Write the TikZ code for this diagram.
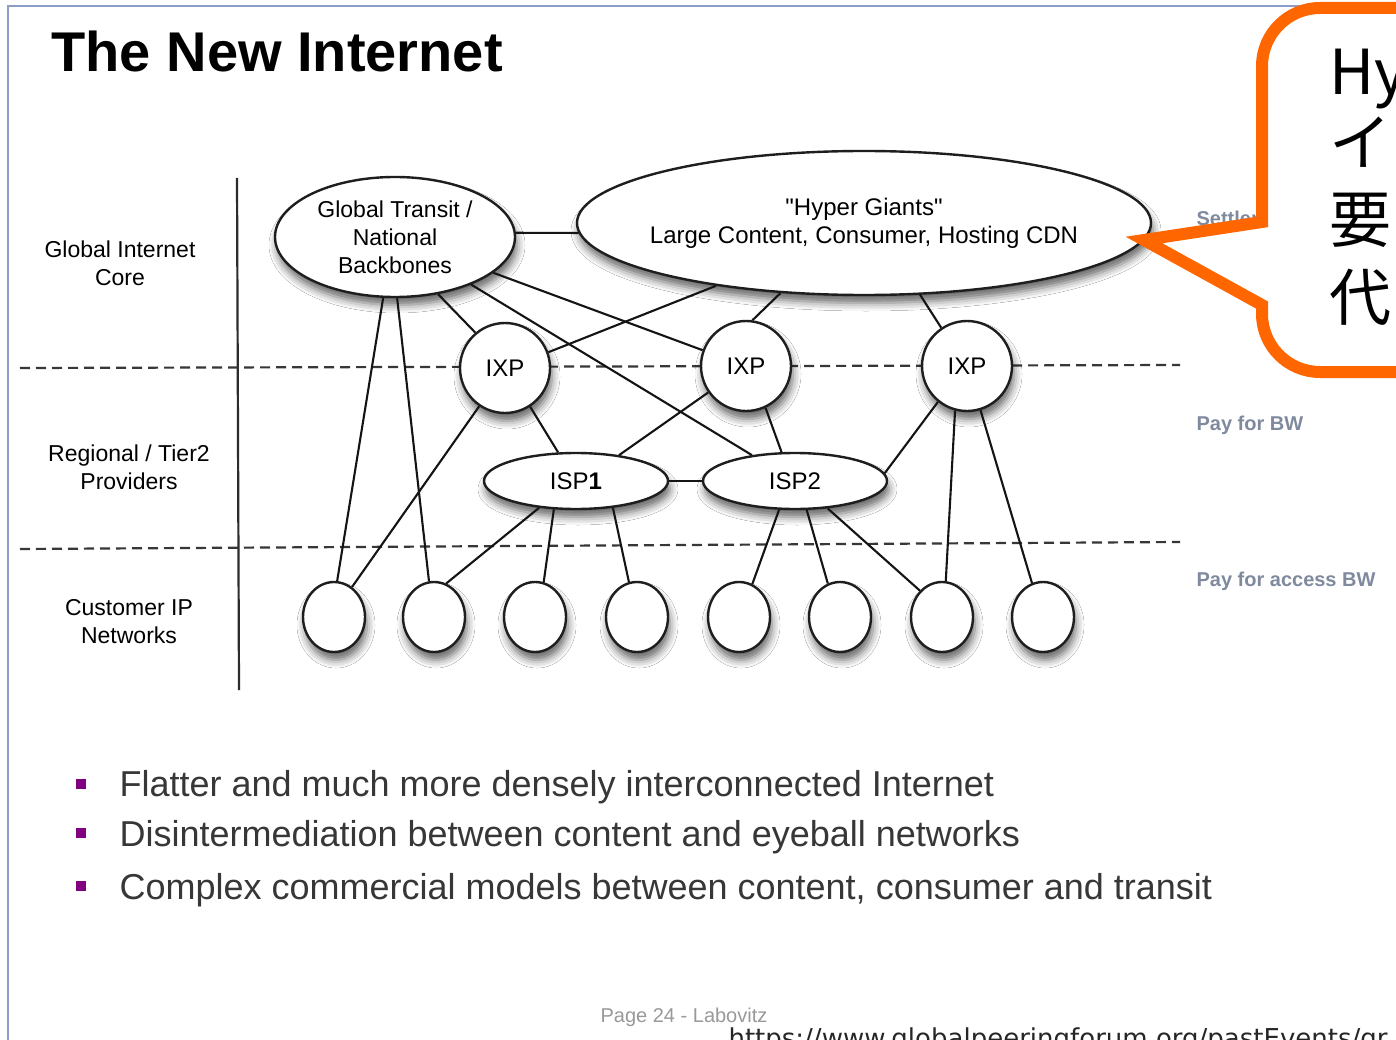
\documentclass[tikz,border=0pt]{standalone}
\usepackage{fontspec}
\setmainfont{Liberation Sans}[Ligatures=TeXOff]
\newfontfamily\jpfont{Noto Sans CJK JP}
\newfontfamily\urlfont{DejaVu Sans}
\usetikzlibrary{shapes.geometric,shadows.blur}

\definecolor{edgeC}{RGB}{20,20,20}
\definecolor{nodeC}{RGB}{30,30,30}
\definecolor{dashC}{RGB}{55,55,55}
\definecolor{frameC}{RGB}{140,158,200}
\definecolor{noteC}{RGB}{128,138,158}
\definecolor{bulletC}{RGB}{128,0,128}
\definecolor{bodyC}{RGB}{55,55,55}
\definecolor{calloutC}{RGB}{255,102,0}

\begin{document}
\begin{tikzpicture}[x=1pt,y=-1pt,
  netnode/.style={draw=nodeC, line width=2.4pt, fill=white, inner sep=0pt,
    blur shadow={shadow xshift=2pt, shadow yshift=-8pt, shadow blur radius=8pt, shadow opacity=60}},
  oval/.style={netnode, ellipse},
  ixp/.style={netnode, circle, minimum size=90pt, font=\fontsize{24}{28}\selectfont},
  isp/.style={oval, minimum width=184pt, minimum height=56pt, font=\fontsize{24}{28}\selectfont},
  cust/.style={oval, minimum width=62pt, minimum height=70pt},
  edge/.style={draw=edgeC, line width=2.1pt},
  layer/.style={draw=dashC, line width=2.2pt, dash pattern=on 10pt off 6pt},
  tierlabel/.style={align=center, font=\fontsize{23}{28}\selectfont},
  note/.style={anchor=west, text=noteC, font=\bfseries\fontsize{20}{24}\selectfont},
  bullet/.style={fill=bulletC, minimum size=10pt, inner sep=0pt},
  bodytext/.style={anchor=base west, text=bodyC, font=\fontsize{36}{40}\selectfont},
  jp/.style={anchor=base west, font=\jpfont\fontsize{62}{70}\selectfont}
]
\useasboundingbox (0,0) rectangle (1396,1040);
\clip (0,0) rectangle (1396,1040);
\fill[white] (0,0) rectangle (1396,1040);

% slide frame
\draw[frameC, line width=2pt] (8,1040) -- (8,6) -- (1396,6);

% tier separators, drawn first so the nodes cover them
\draw[draw=dashC!80!black, line width=2.2pt] (237,178) -- (239,690);
\draw[layer] (20,368) -- (1180,365);
\draw[layer] (20,549) -- (1180,542);

% title
\node[anchor=base west, font=\bfseries\fontsize{56}{60}\selectfont] (title) at (48,72) {The New Internet};

% tier labels
\node[tierlabel] (tcore) at (120,263) {Global Internet\\Core};
\node[tierlabel] (tregion) at (129,467) {Regional / Tier2\\Providers};
\node[tierlabel] (tcust) at (129,622) {Customer IP\\Networks};

% core
\node[oval, minimum width=240pt, minimum height=120pt, align=center,
      font=\fontsize{23}{28}\selectfont] (gt) at (395,237)
      {Global Transit /\\National\\Backbones};
\node[oval, minimum width=574pt, minimum height=144pt,
      label={[align=center, font=\fontsize{24}{28}\selectfont]center:"Hyper Giants"\\Large Content, Consumer, Hosting CDN}] (hg) at (864,223) {};

% exchange points
\node[ixp] (ixa) at (505,368) {IXP};
\node[ixp] (ixb) at (746,366) {IXP};
\node[ixp] (ixc) at (967,366) {IXP};

% regional providers
\node[isp] (ispa) at (576,481) {ISP\textbf{1}};
\node[isp] (ispb) at (795,481) {ISP2};

% customer networks
\foreach \i/\x in {1/334,2/434,3/535,4/637,5/739,6/840,7/942,8/1043}
  \node[cust] (c\i) at (\x,617) {};

% links
\draw[edge] (gt.2) -- (hg.182);
\draw[edge] (gt.259) -- (c1.85);
\draw[edge] (gt.272) -- (c2.98);
\draw[edge] (gt.307) -- (ixa.130);
\draw[edge] (gt.328) -- (ispb.149);
\draw[edge] (gt.340) -- (ixb.160);
\draw[edge] (hg.203) -- (ixa.20);
\draw[edge] (hg.220) -- (ixb.82);
\draw[edge] (hg.308) -- (ixc.124);
\draw[edge] (ixa.303) -- (ispa.122);
\draw[edge] (ixa.236) -- (c1.59);
\draw[edge] (ixb.215) -- (ispa.31);
\draw[edge] (ixb.295) -- (ispb.115);
\draw[edge] (ixc.231) -- (ispb.5);
\draw[edge] (ixc.255) -- (c7.84);
\draw[edge] (ixc.287) -- (c8.108);
\draw[edge] (ispa.east) -- (ispb.west);
\draw[edge] (ispa.216) -- (c2.70);
\draw[edge] (ispa.232) -- (c3.76);
\draw[edge] (ispa.324) -- (c4.103);
\draw[edge] (ispb.241) -- (c5.68);
\draw[edge] (ispb.292) -- (c6.110);
\draw[edge] (ispb.320) -- (c7.130);

% settlement notes
\node[note] (nset) at (1193,218) {Settlement};
\node[note] (npay) at (1193,425) {Pay for BW};
\node[note] (nacc) at (1193,581) {Pay for access BW};

% bullet list
\node[bullet] (b1) at (81,784) {};
\node[bullet] (b2) at (81,833) {};
\node[bullet] (b3) at (81,886) {};
\node[bodytext] (l1) at (116,796) {Flatter and much more densely interconnected Internet};
\node[bodytext] (l2) at (116,846) {Disintermediation between content and eyeball networks};
\node[bodytext] (l3) at (116,899) {Complex commercial models between content, consumer and transit};

% footer
\node[anchor=base, text=black!40, font=\fontsize{20}{24}\selectfont] (page) at (684,1022) {Page 24 - Labovitz};
\node[anchor=base west, text=black!85, font=\urlfont\fontsize{26}{30}\selectfont] (url) at (725,1047)
  {https://www.globalpeeringforum.org/pastEvents/gr};

% speech callout
\draw[draw=calloutC, fill=white, line width=12pt, line join=miter]
  (1144,240) -- (1262,305) -- (1262,314)
  .. controls (1262,346) and (1288,372) .. (1320,372)
  -- (1480,372) -- (1480,8) -- (1320,8)
  .. controls (1288,8) and (1262,34) .. (1262,66)
  -- (1262,222) -- cycle;
\node[jp] (j1) at (1326,95) {Hyper Giants};
\node[jp] (j2) at (1326,166) {イ};
\node[jp] (j3) at (1326,243) {要};
\node[jp] (j4) at (1326,320) {代};
\end{tikzpicture}
\end{document}
